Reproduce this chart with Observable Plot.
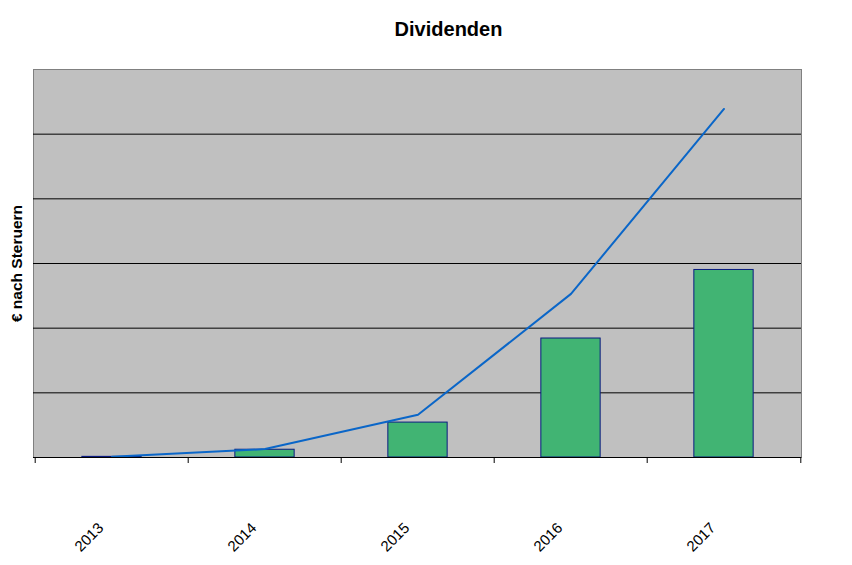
<!DOCTYPE html>
<html>
<head>
<meta charset="utf-8">
<script src="https://cdn.jsdelivr.net/npm/d3@7"></script>
<script src="https://cdn.jsdelivr.net/npm/@observablehq/plot@0.6"></script>
<style>
  html, body { margin: 0; padding: 0; background: #fff; }
  #chart svg { display: block; }
</style>
</head>
<body>
<div id="chart"></div>
<script>
const title = "Dividenden";
const yLabel = "€ nach Steruern";
const years = ["2013", "2014", "2015", "2016", "2017"];
// Bars: yearly dividends (estimated, no y tick labels shown)
const dividends = [1, 12, 54, 184, 290];
// Line: cumulative dividends
const cumulative = [1, 13, 66, 253, 539];
const gridValues = [100, 200, 300, 400, 500];
const yDomain = [0, 600];

const W = 852, H = 565;
const mL = 33, mR = 51, mT = 69, mB = 108;
const bandW = (W - mL - mR) / years.length;

const bars = years.map((year, i) => ({year, value: dividends[i]}));
const line = years.map((year, i) => ({year, value: cumulative[i]}));

const chart = Plot.plot({
  width: W,
  height: H,
  marginLeft: mL,
  marginRight: mR,
  marginTop: mT,
  marginBottom: mB,
  style: {fontFamily: "'Liberation Sans', Arial, sans-serif", background: "#fff"},
  x: {type: "band", domain: years, padding: 0, axis: null},
  y: {domain: yDomain, axis: null},
  marks: [
    Plot.frame({fill: "#c0c0c0", stroke: "#808080"}),
    Plot.ruleY(gridValues, {stroke: "#000", strokeWidth: 1}),
    Plot.barY(bars, {x: "year", y: "value", fill: "#41b473", stroke: "#0a1a80", strokeWidth: 1,
      insetLeft: bandW * 0.305, insetRight: bandW * 0.305}),
    Plot.line(line, {x: "year", y: "value", stroke: "#0a66c8", strokeWidth: 2}),
    Plot.ruleY([0], {stroke: "#000", strokeWidth: 1}),
    // category boundary ticks below the axis
    Plot.ruleX(years, {x: d => d, y1: 0, y2: 0, insetBottom: -6, dx: -bandW / 2, stroke: "#000"}),
    Plot.ruleX(years.slice(-1), {x: d => d, y1: 0, y2: 0, insetBottom: -6, dx: bandW / 2, stroke: "#000"}),
    Plot.text(years, {x: d => d, frameAnchor: "bottom", rotate: -45, textAnchor: "end", lineAnchor: "middle",
      dx: -11, dy: 68, fontSize: 15, fill: "#000"}),
    Plot.text([title], {frameAnchor: "top", lineAnchor: "middle", textAnchor: "middle", dx: 31, dy: -40,
      fontSize: 20, fontWeight: "bold", fill: "#000"}),
    Plot.text([yLabel], {frameAnchor: "left", rotate: -90, textAnchor: "middle", lineAnchor: "middle",
      dx: -16, fontSize: 15.5, fontWeight: "bold", fill: "#000"})
  ]
});
document.getElementById("chart").appendChild(chart);
</script>
</body>
</html>
